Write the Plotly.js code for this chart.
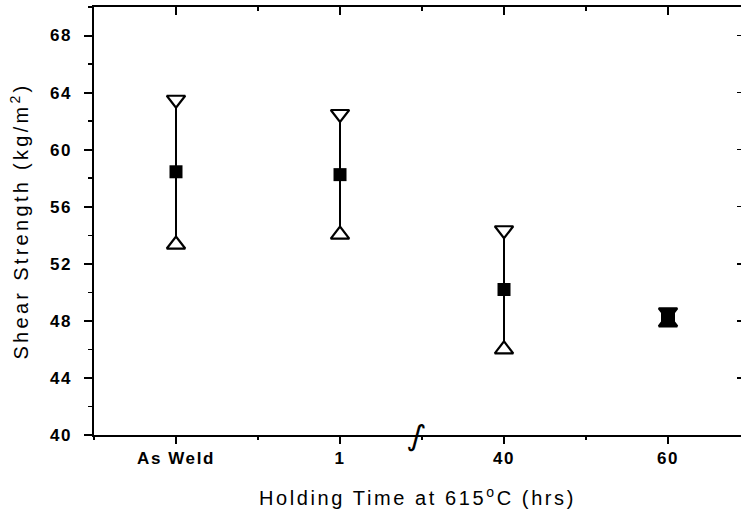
<!DOCTYPE html>
<html>
<head>
<meta charset="utf-8">
<script src="https://cdn.plot.ly/plotly-3.0.1.min.js"></script>
<style>
  html, body { margin: 0; padding: 0; background: #fff; }
  #chart { width: 741px; height: 510px; }
  .xtitle { letter-spacing: 2.6px; }
  .ytitle { letter-spacing: 3.3px; }
  .xtick text, .ytick text { letter-spacing: 1.6px; }
</style>
</head>
<body>
<div id="chart"></div>
<script>
// Data
const categories = ['As Weld', '1', '40', '60'];
const upperValues = [63.5, 62.5, 54.35, 48.6];
const meanValues = [58.45, 58.25, 50.2, 48.25];
const lowerValues = [53.35, 54.05, 46.0, 47.9];
const yTickValues = [40, 44, 48, 52, 56, 60, 64, 68];
const xTitle = 'Holding Time at 615<sup>o</sup>C (hrs)';
const yTitle = 'Shear Strength (kg/m<sup>2</sup>)\u00a0\u00a0\u00a0';

const xPos = categories.map((c, i) => i);
const errPlus = meanValues.map((m, i) => upperValues[i] - m);
const errMinus = meanValues.map((m, i) => m - lowerValues[i]);
// the 60 h point is so tight that its symbols merge into a solid block
const triFill = ['#fff', '#fff', '#fff', '#000'];

const meanTrace = {
  x: xPos, y: meanValues, type: 'scatter', mode: 'markers',
  marker: { symbol: 'square', size: 13, color: '#000' },
  error_y: { type: 'data', symmetric: false, array: errPlus, arrayminus: errMinus,
             color: '#000', thickness: 2, width: 0 },
  hoverinfo: 'skip'
};
const upperTrace = {
  x: xPos, y: upperValues, type: 'scatter', mode: 'markers',
  marker: { symbol: 'triangle-down', size: 16, color: triFill, line: { color: '#000', width: 2.2 } },
  hoverinfo: 'skip'
};
const lowerTrace = {
  x: xPos, y: lowerValues, type: 'scatter', mode: 'markers',
  marker: { symbol: 'triangle-up', size: 16, color: triFill, line: { color: '#000', width: 2.2 } },
  hoverinfo: 'skip'
};
const squareOnTop = {
  x: xPos.slice(3), y: meanValues.slice(3), type: 'scatter', mode: 'markers',
  marker: { symbol: 'square', size: 14, color: '#000' }, hoverinfo: 'skip'
};
// carrier trace for mirrored top/right axes (invisible)
const mirrorTrace = {
  x: xPos, y: meanValues, xaxis: 'x2', yaxis: 'y2', type: 'scatter', mode: 'markers',
  marker: { opacity: 0 }, hoverinfo: 'skip'
};

const tickFont = { family: 'Liberation Sans, Arial, sans-serif', size: 17, color: '#000', weight: 'bold' };
const titleFont = { family: 'Liberation Sans, Arial, sans-serif', size: 20, color: '#000' };
const xRange = [-0.5, 3.445];
const yRange = [40, 70];

const layout = {
  width: 741, height: 510,
  margin: { l: 94, r: 0, t: 7, b: 75 },
  paper_bgcolor: '#fff', plot_bgcolor: '#fff',
  showlegend: false,
  xaxis: {
    range: xRange, tickmode: 'array', tickvals: xPos, ticktext: categories,
    ticks: 'outside', ticklen: 7, tickwidth: 2, tickcolor: '#000',
    showline: true, linewidth: 2, linecolor: '#000',
    showgrid: false, zeroline: false, tickfont: tickFont, ticklabelstandoff: 0,
    minor: { tickmode: 'linear', tick0: -0.5, dtick: 0.5, ticks: 'outside', ticklen: 3, tickwidth: 1.5, tickcolor: '#000', showgrid: false },
    title: { text: xTitle, font: titleFont, standoff: 24 }
  },
  yaxis: {
    range: yRange, tickmode: 'array', tickvals: yTickValues,
    ticks: 'outside', ticklen: 8, tickwidth: 2, tickcolor: '#000',
    showline: true, linewidth: 2.5, linecolor: '#000',
    showgrid: false, zeroline: false, tickfont: tickFont, ticklabelstandoff: 8,
    minor: { tickmode: 'linear', tick0: 40, dtick: 2, ticks: 'outside', ticklen: 4, tickwidth: 1.5, tickcolor: '#000', showgrid: false },
    title: { text: yTitle, font: titleFont, standoff: 16 }
  },
  xaxis2: {
    overlaying: 'x', side: 'top', anchor: 'y', range: xRange,
    tickmode: 'array', tickvals: xPos, ticks: 'inside', ticklen: 8, tickwidth: 2, tickcolor: '#000',
    showticklabels: false, showline: true, linewidth: 2.5, linecolor: '#000',
    showgrid: false, zeroline: false,
    minor: { tickmode: 'linear', tick0: -0.5, dtick: 0.5, ticks: 'inside', ticklen: 4, tickwidth: 1.5, tickcolor: '#000', showgrid: false }
  },
  yaxis2: {
    overlaying: 'y', side: 'right', anchor: 'x', range: yRange,
    tickmode: 'array', tickvals: yTickValues, ticks: 'inside', ticklen: 4, tickwidth: 1.5, tickcolor: '#000',
    showticklabels: false, showline: false, showgrid: false, zeroline: false
  },
  annotations: [{
    x: 1.47, y: 40, xref: 'x', yref: 'y', text: '\u222B', showarrow: false,
    font: { family: 'DejaVu Sans, sans-serif', size: 30, color: '#000' }, textangle: 12
  }]
};

Plotly.newPlot('chart', [meanTrace, upperTrace, lowerTrace, squareOnTop, mirrorTrace], layout, { staticPlot: true, displayModeBar: false });
</script>
</body>
</html>
